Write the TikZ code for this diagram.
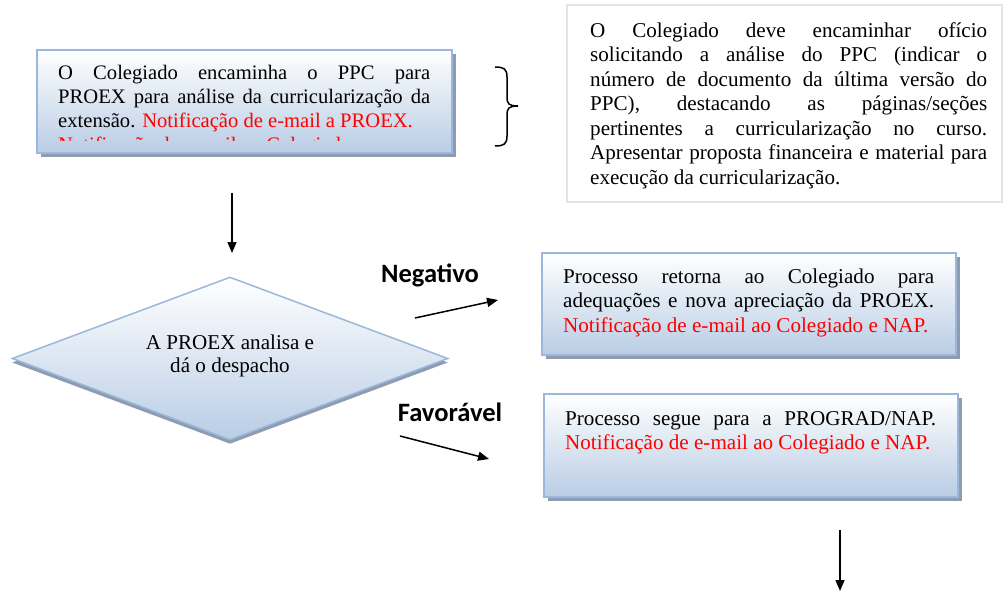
\documentclass[tikz,border=0pt]{standalone}
\usepackage{fontspec}
\setmainfont{Liberation Serif}
\newfontfamily\labelfont{Carlito}
\usetikzlibrary{shapes.geometric,shadows,arrows.meta}
\definecolor{boxblue}{HTML}{B9CDE5}
\definecolor{boxline}{HTML}{9BB7DA}
\definecolor{shadowgray}{HTML}{8E9BB0}
\definecolor{notered}{HTML}{FF0000}
\definecolor{graybox}{HTML}{E4E4E4}
\begin{document}
\begin{tikzpicture}[x=1pt,y=-1pt,
  flowbox/.style={rectangle, draw=boxline, line width=1.5pt, top color=white, bottom color=boxblue,
    drop shadow={shadow xshift=4pt, shadow yshift=-4pt, fill=shadowgray, opacity=1}, inner sep=0},
  bodytext/.style={inner sep=0, anchor=north west, align=justify, font=\fontsize{21.1}{24.5}\selectfont},
  lbl/.style={font=\labelfont\bfseries\fontsize{26.5}{30}\selectfont, inner sep=0},
  arr/.style={line width=1.5pt, -{Triangle[length=11pt,width=9pt]}},
]
\useasboundingbox (0,0) rectangle (1006,596);

% box 1
\node[flowbox, minimum width=415pt, minimum height=103pt] (b1) at (244.5,101.5) {};
\begin{scope}
  \clip (37,50) rectangle (452,141);
  \node[bodytext, text width=372pt, font=\fontsize{20.6}{24}\selectfont] (t1) at (58,63) {\strut O Colegiado encaminha o PPC para\linebreak
    PROEX para análise da curricularização da\linebreak
    extensão. \textcolor{notered}{Notificação de e-mail a PROEX.}\\
    \textcolor{notered}{Notificação de e-mail ao Colegiado.}};
\end{scope}

% brace
\draw[line width=1.5pt] (495,67) .. controls (504,67) and (507,69) .. (507,77) -- (507,97)
  .. controls (507,104) and (509,106) .. (518,106)
  .. controls (509,106) and (507,108) .. (507,115) -- (507,136)
  .. controls (507,144) and (504,146) .. (495,146);

% box 2
\node[rectangle, draw=graybox, line width=2pt, minimum width=435pt, minimum height=197pt, inner sep=0] (b2) at (784.5,103.5) {};
\node[bodytext, text width=397pt] (t2) at (590,20) {\strut O Colegiado deve encaminhar ofício\linebreak
  solicitando a análise do PPC (indicar o\linebreak
  número de documento da última versão do\linebreak
  PPC), destacando as páginas/seções\linebreak
  pertinentes a curricularização no curso.\linebreak
  Apresentar proposta financeira e material para\linebreak
  execução da curricularização.};

% diamond
\node[diamond, draw=boxline, line width=1.5pt, top color=white, bottom color=boxblue,
  drop shadow={shadow xshift=0pt, shadow yshift=-4pt, fill=shadowgray, opacity=1},
  minimum width=436pt, minimum height=163pt, shape aspect=2.67, inner sep=0] (d) at (230,358.5) {};
\node[inner sep=0, align=center, font=\fontsize{21.1}{23}\selectfont] (dt) at (230,356) {A PROEX analisa e\\dá o despacho};

% box 3
\node[flowbox, minimum width=414pt, minimum height=102pt] (b3) at (749,304) {};
\node[bodytext, text width=371pt] (t3) at (563,266) {\strut Processo retorna ao Colegiado para\linebreak
  adequações e nova apreciação da PROEX.\linebreak
  \textcolor{notered}{Notificação de e-mail ao Colegiado e NAP.}};

% box 4
\node[flowbox, minimum width=414pt, minimum height=103pt] (b4) at (751,445.5) {};
\node[bodytext, text width=371pt] (t4) at (565,408) {\strut Processo segue para a PROGRAD/NAP.\linebreak
  \textcolor{notered}{Notificação de e-mail ao Colegiado e NAP.}};

% labels
\node[lbl] (neg) at (430,275) {Negativo};
\node[lbl] (fav) at (450,412) {Favorável};

% arrows
\coordinate (a1s) at (232,193); \coordinate (a1e) at (232,253);
\coordinate (a2s) at (415,318); \coordinate (a2e) at (498,300);
\coordinate (a3s) at (400,436); \coordinate (a3e) at (489,459);
\coordinate (a4s) at (840,530); \coordinate (a4e) at (840,591);
\draw[arr] (a1s) -- (a1e);
\draw[arr] (a2s) -- (a2e);
\draw[arr] (a3s) -- (a3e);
\draw[arr] (a4s) -- (a4e);
\end{tikzpicture}
\end{document}
